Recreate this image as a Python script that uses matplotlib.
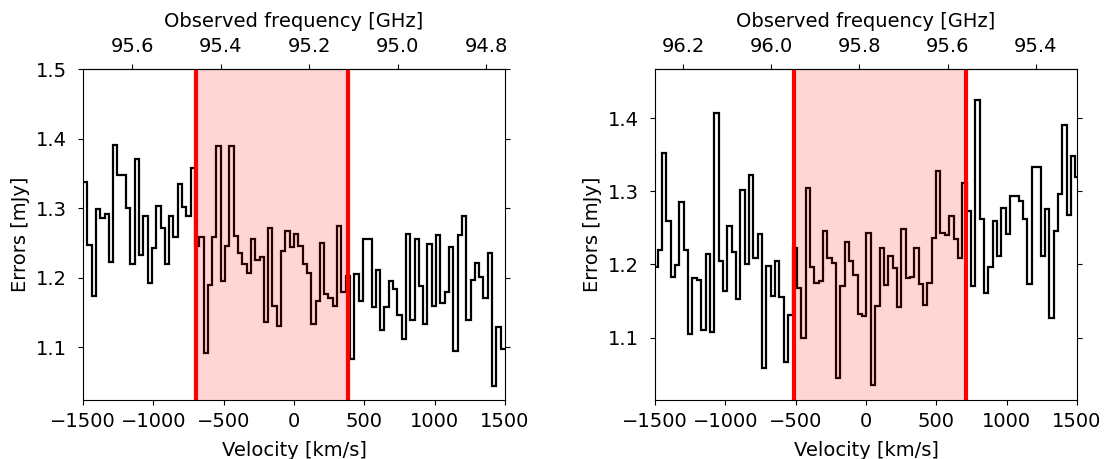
import numpy as np
import matplotlib
matplotlib.use('Agg')
from matplotlib import pyplot as plt

plt.rcParams['font.size'] = 14

C_KMS = 299792.458

## data -----------------------------------------------------

# channel edges [km/s]
vel_edges_1 = np.linspace(-1500, 1500, 99)
vel_edges_2 = np.linspace(-1512, 1519, 99)

# per-channel errors [mJy]
err_1 = [1.338, 1.247, 1.173, 1.299, 1.286, 1.292, 1.223, 1.391, 1.348, 1.348,
         1.300, 1.219, 1.370, 1.233, 1.289, 1.192, 1.242, 1.303, 1.271, 1.219,
         1.288, 1.258, 1.335, 1.302, 1.288, 1.358, 1.245, 1.258, 1.092, 1.190,
         1.259, 1.389, 1.195, 1.245, 1.390, 1.260, 1.235, 1.219, 1.207, 1.256,
         1.226, 1.230, 1.136, 1.271, 1.159, 1.130, 1.238, 1.267, 1.244, 1.263,
         1.246, 1.219, 1.207, 1.133, 1.166, 1.250, 1.177, 1.171, 1.159, 1.275,
         1.179, 1.203, 1.083, 1.206, 1.167, 1.256, 1.256, 1.158, 1.211, 1.125,
         1.158, 1.195, 1.184, 1.147, 1.112, 1.263, 1.139, 1.256, 1.188, 1.133,
         1.248, 1.159, 1.261, 1.164, 1.179, 1.244, 1.095, 1.262, 1.289, 1.139,
         1.197, 1.221, 1.201, 1.171, 1.236, 1.044, 1.129, 1.097]

err_2 = [1.197, 1.220, 1.352, 1.259, 1.183, 1.199, 1.285, 1.219, 1.105, 1.181,
         1.179, 1.110, 1.214, 1.108, 1.407, 1.204, 1.163, 1.253, 1.217, 1.153,
         1.301, 1.200, 1.322, 1.209, 1.241, 1.059, 1.198, 1.157, 1.205, 1.156,
         1.066, 1.131, 1.223, 1.168, 1.100, 1.304, 1.197, 1.174, 1.177, 1.245,
         1.208, 1.202, 1.044, 1.170, 1.231, 1.205, 1.186, 1.132, 1.130, 1.243,
         1.035, 1.143, 1.222, 1.172, 1.212, 1.195, 1.142, 1.248, 1.182, 1.183,
         1.222, 1.173, 1.144, 1.174, 1.236, 1.328, 1.243, 1.240, 1.266, 1.234,
         1.208, 1.311, 1.273, 1.170, 1.425, 1.262, 1.161, 1.196, 1.259, 1.212,
         1.277, 1.241, 1.294, 1.293, 1.287, 1.262, 1.173, 1.333, 1.333, 1.211,
         1.275, 1.126, 1.246, 1.296, 1.390, 1.267, 1.348, 1.319]

# line window [km/s]
win_1 = (-694, 386)
win_2 = (-510, 711)

# observed frequency at v = 0 [GHz]
f0_1 = 95.2345
f0_2 = 95.7852

freq_ticks_1 = [95.6, 95.4, 95.2, 95.0, 94.8]
freq_ticks_2 = [96.2, 96.0, 95.8, 95.6, 95.4]

yticks_1 = [1.1, 1.2, 1.3, 1.4, 1.5]
yticks_2 = [1.1, 1.2, 1.3, 1.4]
ylim_1 = (1.0242, 1.5)
ylim_2 = (1.0146, 1.467)

vel_ticks = [-1500, -1000, -500, 0, 500, 1000, 1500]


def make_panel(ax, edges, errs, win, f0, fticks, yticks, ylim):
    ax.stairs(errs, edges, baseline=None, color='k', lw=1.6)
    ax.axvspan(win[0], win[1], color='red', alpha=0.16, lw=0)
    ax.axvline(win[0], color='red', lw=3)
    ax.axvline(win[1], color='red', lw=3)

    ax.set_xlim(-1500, 1500)
    ax.set_ylim(*ylim)
    ax.set_xticks(vel_ticks)
    ax.set_yticks(yticks)
    ax.tick_params(right=True)
    ax.tick_params(axis='y', pad=8)
    ax.tick_params(axis='x', pad=5)
    ax.set_xlabel('Velocity [km/s]', labelpad=7)
    ax.set_ylabel('Errors [mJy]')

    # radio convention
    def v2f(v):
        return f0 * (1 - np.asarray(v) / C_KMS)

    def f2v(f):
        return C_KMS * (1 - np.asarray(f) / f0)

    top = ax.secondary_xaxis('top', functions=(v2f, f2v))
    top.set_xticks(fticks)
    top.set_xticklabels(['%.1f' % f for f in fticks])
    top.tick_params(pad=5.7)
    top.set_xlabel('Observed frequency [GHz]', labelpad=7.6)


fig = plt.figure(figsize=(11.04, 4.59), dpi=100)
ax1 = fig.add_axes([83 / 1104, 59 / 459, 422 / 1104, 331 / 459])
ax2 = fig.add_axes([655 / 1104, 59 / 459, 422 / 1104, 331 / 459])

make_panel(ax1, vel_edges_1, err_1, win_1, f0_1, freq_ticks_1, yticks_1, ylim_1)
make_panel(ax2, vel_edges_2, err_2, win_2, f0_2, freq_ticks_2, yticks_2, ylim_2)

fig.savefig('out.png', dpi=100)
